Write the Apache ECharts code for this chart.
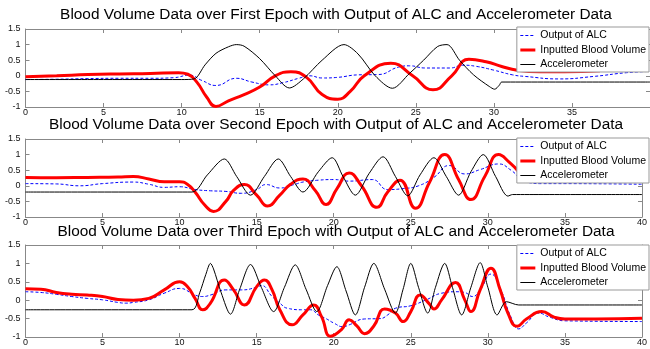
<!DOCTYPE html>
<html>
<head>
<meta charset="utf-8">
<script src="https://cdn.jsdelivr.net/npm/echarts@6/dist/echarts.min.js"></script>
<style>
  html, body { margin: 0; padding: 0; background: #fff; }
  #main { width: 650px; height: 349px; }
</style>
</head>
<body>
<div id="main"></div>
<script>
// tick labels
var xTicks = [0, 5, 10, 15, 20, 25, 30, 35, 40];
var yTicks = [-1, -0.5, 0, 0.5, 1, 1.5];
var seriesNames = ['Output of ALC', 'Inputted Blood Volume', 'Accelerometer'];
var titles = [
    'Blood Volume Data over First Epoch with Output of ALC and Accelerometer Data',
    'Blood Volume Data over Second Epoch with Output of ALC and Accelerometer Data',
    'Blood Volume Data over Third Epoch with Output of ALC and Accelerometer Data'
];

// ---- first epoch ----
var e1AlcX = [0, 2, 4, 6, 8, 9.5, 10.5, 11.3, 12.2, 13.5, 14.5, 15.6, 16.5, 17.5, 18.2, 19, 20, 21.3, 22.6, 23.9, 24.6, 25.6, 27.2, 28, 28.9, 30, 31.2, 32, 34.2, 36.4, 38.5, 40];
var e1AlcY = [-0.12, -0.11, -0.09, -0.08, -0.08, -0.06, 0.02, -0.15, -0.31, -0.08, -0.2, -0.29, -0.22, -0.08, 0, -0.07, -0.05, 0.03, 0.04, 0.28, 0.32, 0.25, 0.25, 0.34, 0.3, 0.18, 0.03, -0.02, -0.1, -0.02, 0.1, 0.14];
var e1BvX = [0, 2, 4, 6, 8, 9.8, 10.4, 11, 11.6, 12.2, 13, 14, 15, 16, 17, 18, 19, 20, 20.8, 21.7, 23.4, 24.8, 26.1, 27.3, 28.4, 29.5, 30.5, 31.5, 33, 34.5, 36.8];
var e1BvY = [-0.03, 0, 0.04, 0.06, 0.07, 0.1, 0.05, -0.22, -0.68, -0.98, -0.8, -0.6, -0.36, 0, 0.13, -0.05, -0.6, -0.75, -0.5, 0, 0.4, 0, -0.45, 0, 0.53, 0.45, 0.3, 0.18, 0.13, 0.13, 0.16];
var e1AccX = [0, 5, 10, 10.8, 11.5, 12.2, 13, 13.5, 14, 15, 16, 16.9, 17.8, 19, 20.4, 21.3, 22.4, 23.5, 24.6, 25.5, 26.4, 27, 27.8, 28.7, 29.7, 30.05, 30.35, 30.5, 40];
var e1AccY = [-0.12, -0.12, -0.12, -0.1, 0.35, 0.72, 0.93, 1, 0.95, 0.55, 0, -0.39, -0.1, 0.5, 1, 0.7, 0, -0.4, 0.08, 0.5, 0.94, 1, 0.5, 0.03, -0.34, -0.43, -0.3, -0.2, -0.2];

// ---- second epoch ----
var e2AlcX = [0, 2, 3.5, 5, 7, 8, 9, 10, 11, 12, 13, 14, 15, 15.6, 16.5, 17.5, 18, 19, 20, 21, 22.5, 23.5, 24.5, 25.5, 26.5, 27.5, 28.5, 29.5, 30.7, 31.5, 32.5, 33.5, 35, 40];
var e2AlcY = [0.07, 0.06, 0, 0.07, 0.12, 0.05, -0.05, -0.03, -0.12, -0.16, -0.18, -0.24, -0.12, 0.04, -0.07, 0.05, 0.12, 0.18, 0.2, 0.15, 0.2, -0.12, -0.09, 0, 0.27, 0.65, 0.38, 0.52, 0.7, 0.5, 0.12, 0.07, 0.07, 0.05];
var e2BvX = [0, 2, 4, 6, 7, 8, 9, 10, 10.5, 11, 11.6, 12.2, 13, 13.5, 14.2, 15, 15.7, 16.5, 17.2, 18, 18.8, 19.5, 20.2, 21, 21.8, 22.8, 23.5, 24.3, 25.3, 26.2, 27.2, 28.1, 28.9, 29.8, 30.7, 31.4, 32];
var e2BvY = [0.27, 0.26, 0.27, 0.28, 0.3, 0.22, 0.13, 0.13, 0.05, -0.2, -0.6, -0.82, -0.5, -0.15, 0.04, -0.3, -0.65, -0.3, 0.05, 0.22, -0.15, -0.6, -0.1, 0.41, 0, -0.69, -0.2, 0.18, -0.72, 0.1, 1, 0.2, -0.44, 0.3, 1, 0.75, 0.45];
var e2AccX = [0, 10.8, 11.8, 12.9, 13.7, 14.6, 15.5, 16.4, 17.2, 18, 19, 19.9, 20.6, 21.4, 22.3, 23.2, 24, 24.8, 25.6, 26.5, 27.3, 28.1, 28.9, 29.7, 30.5, 31.3, 31.6, 40];
var e2AccY = [-0.2, -0.2, 0.35, 0.86, 0.3, -0.3, 0.3, 0.86, 0.3, -0.2, 0.45, 0.9, 0.3, -0.3, 0.4, 0.93, 0.3, -0.32, 0.35, 0.9, 0.3, -0.3, 0.45, 1, 0.3, -0.33, -0.28, -0.28];

// ---- third epoch ----
var e3AlcX = [0, 1, 2, 3, 4, 5, 6, 6.5, 7, 8, 9, 10, 11, 11.5, 12, 13, 14, 15, 15.3, 16, 16.5, 17, 18, 18.5, 19, 19.5, 20, 20.6, 21, 22, 23, 23.5, 24, 25, 26, 27, 28, 28.5, 29, 29.5, 30.2, 30.8, 31.5, 32, 32.5, 33.3, 34, 35, 40];
var e3AlcY = [0.23, 0.21, 0.16, 0.1, 0.05, 0.01, -0.06, -0.08, -0.06, 0.01, 0.19, 0.32, 0.14, 0.1, 0.14, 0.28, 0.28, 0.35, 0.4, 0.1, -0.08, -0.22, -0.26, -0.26, -0.4, -0.5, -0.62, -0.72, -0.67, -0.51, -0.5, -0.4, -0.22, -0.15, 0.01, 0.19, 0.23, 0.21, 0.1, 0.28, 0.71, 0.32, -0.46, -0.78, -0.62, -0.35, -0.46, -0.56, -0.58];
var e3BvX = [0, 1, 2, 3, 4, 5, 6, 7, 8, 9, 10, 10.5, 11, 11.5, 12, 12.9, 13.5, 14.2, 15, 15.5, 16, 16.5, 17.3, 18, 18.7, 19.2, 19.8, 20.5, 21, 21.5, 22, 22.6, 23.3, 24, 24.5, 25, 25.6, 26.2, 26.5, 27, 27.9, 28.5, 28.9, 29.5, 30.2, 30.8, 31.3, 31.9, 32.5, 33.5, 34.3, 35, 37, 40];
var e3BvY = [0.31, 0.3, 0.21, 0.16, 0.14, 0.1, 0.02, 0, 0.05, 0.28, 0.5, 0.37, 0.05, -0.26, -0.08, 0.55, 0.28, -0.13, 0.37, 0.55, 0.28, -0.26, -0.67, -0.4, -0.13, -0.44, -0.98, -0.8, -0.53, -0.7, -0.91, -0.7, -0.24, -0.35, -0.58, -0.31, 0.14, -0.1, -0.24, 0.01, 0.48, 0.01, -0.31, 0.28, 0.87, 0.28, -0.35, -0.71, -0.51, -0.31, -0.46, -0.51, -0.51, -0.49];
var e3AccX = [0, 10.8, 11.3, 11.7, 12, 12.2, 12.7, 13.3, 13.9, 14.6, 15.3, 16.1, 16.8, 17.5, 18.2, 18.9, 19.6, 20.2, 20.8, 21.4, 22, 22.6, 23.3, 24, 24.5, 25, 25.5, 26.1, 26.6, 27.2, 27.7, 28.3, 28.9, 29.5, 30, 30.6, 31.2, 32, 40];
var e3AccY = [-0.26, -0.26, 0.2, 0.7, 1, 0.85, 0.2, -0.38, 0.3, 0.97, 0.35, -0.31, 0.35, 0.96, 0.3, -0.31, 0.4, 0.91, 0.25, -0.4, 0.35, 1, 0.3, -0.35, 0.3, 1, 0.35, -0.35, 0.35, 1, 0.35, -0.4, 0.35, 1.02, 0.35, -0.4, -0.04, -0.13, -0.13];

function zip(xs, ys) {
    var out = [];
    for (var i = 0; i < xs.length; i++) {
        out.push([xs[i], ys[i]]);
    }
    return out;
}

var epochs = [
    [zip(e1AlcX, e1AlcY), zip(e1BvX, e1BvY), zip(e1AccX, e1AccY)],
    [zip(e2AlcX, e2AlcY), zip(e2BvX, e2BvY), zip(e2AccX, e2AccY)],
    [zip(e3AlcX, e3AlcY), zip(e3BvX, e3BvY), zip(e3AccX, e3AccY)]
];

var gridTops = [29, 139, 245];
var gridHeights = [78, 78, 92];
var gridRights = [0, 2, 2];
var titleTops = [7, 117, 224];
var legendTops = [27, 138, 245];

var axisGray = '#888';
var font = 'Liberation Sans, Arial, sans-serif';

var grid = [], xAxis = [], yAxis = [], series = [], title = [], legend = [];

for (var g = 0; g < 3; g++) {
    grid.push({ left: 25.5, right: gridRights[g], top: gridTops[g], height: gridHeights[g] });

    title.push({
        text: titles[g],
        left: 336,
        top: titleTops[g],
        textAlign: 'center',
        padding: 0,
        textStyle: { fontSize: 15.4, fontWeight: 'normal', color: '#000', fontFamily: font }
    });

    legend.push({
        data: seriesNames,
        right: 1,
        top: legendTops[g],
        orient: 'vertical',
        backgroundColor: '#fff',
        borderColor: '#999',
        borderWidth: 1,
        padding: [3, 3, 2, 2],
        itemWidth: 15,
        itemHeight: 11,
        itemGap: 3.5,
        selectedMode: false,
        itemStyle: { opacity: 0 },
        lineStyle: { width: 'inherit' },
        textStyle: { fontSize: 10.5, color: '#000', fontFamily: font }
    });

    // bottom + top x axes (top one only for the box and ticks)
    xAxis.push({
        type: 'value', gridIndex: g, min: 0, max: 40, interval: 5,
        axisLine: { onZero: false, lineStyle: { color: axisGray, width: 1 } },
        axisTick: { inside: true, length: 4, lineStyle: { color: axisGray } },
        axisLabel: {
            fontSize: 9, color: '#111', margin: 1, fontFamily: font,
            showMaxLabel: g !== 0,
            formatter: function (v) { return xTicks.indexOf(v) >= 0 ? String(v) : ''; }
        },
        splitLine: { show: false }
    });
    xAxis.push({
        type: 'value', gridIndex: g, position: 'top', min: 0, max: 40, interval: 5,
        axisLine: { onZero: false, lineStyle: { color: axisGray, width: 1 } },
        axisTick: { inside: true, length: 4, lineStyle: { color: axisGray } },
        axisLabel: { show: false },
        splitLine: { show: false }
    });
    yAxis.push({
        type: 'value', gridIndex: g, min: -1, max: 1.5, interval: 0.5,
        axisLine: { show: true, onZero: false, lineStyle: { color: axisGray, width: 1 } },
        axisTick: { show: true, inside: true, length: 4, lineStyle: { color: axisGray } },
        axisLabel: {
            fontSize: 9, color: '#111', margin: 5, fontFamily: font,
            formatter: function (v) { return yTicks.indexOf(v) >= 0 ? String(v) : ''; }
        },
        splitLine: { show: false }
    });
    yAxis.push({
        type: 'value', gridIndex: g, position: 'right', min: -1, max: 1.5, interval: 0.5,
        axisLine: { show: true, onZero: false, lineStyle: { color: axisGray, width: 1 } },
        axisTick: { show: true, inside: true, length: 4, lineStyle: { color: axisGray } },
        axisLabel: { show: false },
        splitLine: { show: false }
    });

    var xi = g * 2, yi = g * 2;
    series.push({
        name: seriesNames[0], type: 'line', xAxisIndex: xi, yAxisIndex: yi,
        data: epochs[g][0], showSymbol: false, symbol: 'none', smooth: 0.5,
        lineStyle: { color: '#0000ff', width: 1, type: [3, 2] },
        itemStyle: { color: '#0000ff' }
    });
    series.push({
        name: seriesNames[1], type: 'line', xAxisIndex: xi, yAxisIndex: yi,
        data: epochs[g][1], showSymbol: false, symbol: 'none', smooth: 0.5,
        lineStyle: { color: '#ff0000', width: 3 },
        itemStyle: { color: '#ff0000' }
    });
    series.push({
        name: seriesNames[2], type: 'line', xAxisIndex: xi, yAxisIndex: yi,
        data: epochs[g][2], showSymbol: false, symbol: 'none', smooth: 0.3,
        lineStyle: { color: '#000', width: 1 },
        itemStyle: { color: '#000' }
    });
}

var myChart = echarts.init(document.getElementById('main'));
var option = {
    backgroundColor: '#fff',
    animation: false,
    title: title,
    legend: legend,
    grid: grid,
    xAxis: xAxis,
    yAxis: yAxis,
    series: series
};
myChart.setOption(option);
</script>
</body>
</html>
